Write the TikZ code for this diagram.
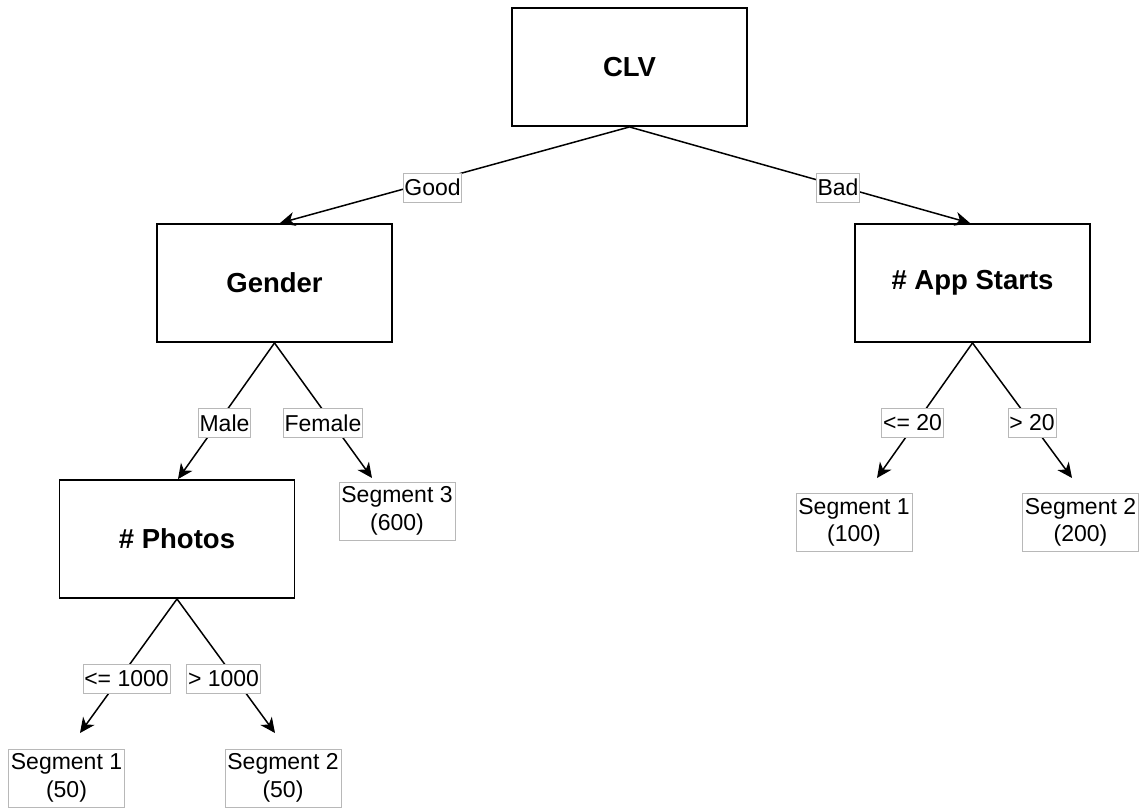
\documentclass[tikz,border=0pt]{standalone}
\usepackage{fontspec}
\setmainfont{Liberation Sans}
\usetikzlibrary{arrows.meta}
\begin{document}
\begin{tikzpicture}[x=1pt,y=-1pt,
  box/.style={draw=black,line width=1.9pt,minimum width=235pt,minimum height=118pt,inner sep=0pt,
    font=\fontsize{27.5}{32}\selectfont\bfseries},
  lbl/.style={draw=black!28,line width=0.8pt,fill=white,inner sep=1.2pt,minimum height=29pt,
    font=\fontsize{23}{27}\selectfont},
  seg/.style={draw=black!28,line width=0.8pt,fill=white,align=center,inner sep=0pt,
    minimum width=116pt,minimum height=58pt,font=\fontsize{23}{27.5}\selectfont},
  arr/.style={line width=1.5pt,-{Stealth[length=15pt,width=14pt,inset=4.5pt]}}]
\useasboundingbox (0,0) rectangle (1141,807);
\clip (0,0) rectangle (1141,807);
% main boxes
\node[box] (clv) at (629.5,67) {CLV};
\node[box] (gender) at (274.5,283) {Gender};
\node[box] (app) at (972.5,283) {\strut\# App Starts};
\node[box] (photos) at (177,539) {\# Photos};
% segments
\node[seg] (s3) at (397,511) {Segment 3\\(600)};
\node[seg] (s1a) at (66.5,778) {Segment 1\\(50)};
\node[seg] (s2a) at (283,778) {Segment 2\\(50)};
\node[seg] (s1b) at (854,522.5) {Segment 1\\(100)};
\node[seg] (s2b) at (1080.5,522.5) {Segment 2\\(200)};
% free arrow ends
\coordinate (tFemale) at (372,478);
\coordinate (tLe1000) at (80,733);
\coordinate (tGt1000) at (275,733);
\coordinate (tLe20) at (877,478);
\coordinate (tGt20) at (1072,478);
% connectors
\draw[arr] (clv.south) -- ([xshift=5.5pt]gender.north);
\draw[arr] (clv.south) -- ([xshift=-2.5pt]app.north);
\draw[arr] (gender.south) -- ([xshift=1pt]photos.north);
\draw[arr] (gender.south) -- (tFemale);
\draw[arr] (photos.south) -- (tLe1000);
\draw[arr] (photos.south) -- (tGt1000);
\draw[arr] (app.south) -- (tLe20);
\draw[arr] (app.south) -- (tGt20);
% labels
\node[lbl] (lGood) at (432.5,187.5) {Good};
\node[lbl] (lBad) at (838,187.5) {Bad};
\node[lbl] (lMale) at (224.5,423) {Male};
\node[lbl] (lFemale) at (323,423) {Female};
\node[lbl] (lLe1000) at (126.5,679) {<= 1000};
\node[lbl] (lGt1000) at (223.5,679) {> 1000};
\node[lbl] (lLe20) at (912.5,423) {<= 20};
\node[lbl] (lGt20) at (1032,423) {> 20};
\end{tikzpicture}
\end{document}
